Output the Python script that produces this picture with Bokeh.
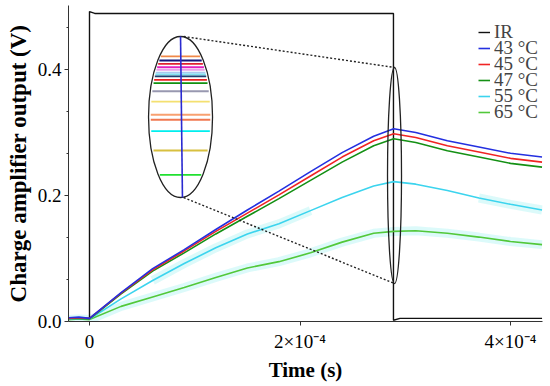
from bokeh.plotting import figure
from bokeh.models import (FixedTicker, CustomJSTickFormatter, Legend, LegendItem,
                          Range1d)
from bokeh.embed import file_html
from bokeh.resources import INLINE
import numpy as np

# ---------------- data ----------------
# time in units of 1e-4 s
t_e4 = [-0.2, -0.1, 0.0, 0.3, 0.6, 0.9, 1.2, 1.5, 1.8, 2.1, 2.4, 2.7, 2.89,
        3.1, 3.4, 3.7, 4.0, 4.3]
v43 = [0.006, 0.007, 0.005, 0.046, 0.084, 0.114, 0.146, 0.177, 0.207, 0.238,
       0.268, 0.294, 0.306, 0.300, 0.287, 0.277, 0.267, 0.261]
v45 = [0.005, 0.006, 0.005, 0.045, 0.082, 0.112, 0.143, 0.172, 0.201, 0.231,
       0.261, 0.287, 0.298, 0.292, 0.279, 0.269, 0.259, 0.253]
v47 = [0.005, 0.005, 0.004, 0.044, 0.080, 0.109, 0.139, 0.167, 0.195, 0.224,
       0.253, 0.279, 0.290, 0.284, 0.271, 0.261, 0.251, 0.245]
v55 = [0.004, 0.005, 0.004, 0.036, 0.065, 0.092, 0.117, 0.139, 0.155, 0.176,
       0.197, 0.215, 0.222, 0.218, 0.208, 0.196, 0.186, 0.177]
v65 = [0.003, 0.004, 0.003, 0.024, 0.039, 0.054, 0.070, 0.085, 0.095, 0.109,
       0.126, 0.140, 0.143, 0.144, 0.140, 0.134, 0.127, 0.122]

ir_t_e4 = [-0.2, 0.0, 0.0, 0.05, 2.888, 2.888, 2.95, 4.3]
ir_v = [0.005, 0.005, 0.492, 0.489, 0.489, 0.002, 0.005, 0.005]

series_names = ["IR", "43 °C", "45 °C", "47 °C", "55 °C", "65 °C"]
series_colors = ["#111111", "#2430e0", "#f02424", "#149014", "#3cd4ee", "#52c83a"]

x_ticks = [0.0, 2e-4, 4e-4]
x_tick_labels = ["0", "2×10⁻⁴", "4×10⁻⁴"]
y_ticks = [0.0, 0.2, 0.4]
y_tick_labels = ["0.0", "0.2", "0.4"]
y_minor = [0.0667, 0.1333, 0.2667, 0.3333, 0.4667]

# magnified inset: level positions (fraction from top of ellipse) and colours
inset_levels = [0.124, 0.149, 0.170, 0.191, 0.207, 0.224, 0.236, 0.248, 0.269,
                0.290, 0.340, 0.404, 0.486, 0.517, 0.588, 0.708, 0.859]
inset_colors = ["#f08848", "#14147a", "#e02030", "#e020c0", "#e8a0e8", "#a8c8f0",
                "#80e0f0", "#204070", "#e82020", "#109010", "#9898b0", "#f4e070",
                "#f8a070", "#f07850", "#00eeee", "#d8c040", "#20e030"]

# ---------------- layout constants ----------------
t = [v * 1e-4 for v in t_e4]
ir_t = [v * 1e-4 for v in ir_t_e4]

big_cx, big_cy, big_w, big_h = 8.65e-5, 0.3246, 6.08e-5, 0.2556
sm_cx, sm_cy, sm_w, sm_h = 2.898e-4, 0.2317, 1.33e-5, 0.343

SERIF = "Liberation Serif"

p = figure(width=550, height=386, output_backend="svg", toolbar_location=None,
           x_range=Range1d(-1.995e-5, 4.304e-4), y_range=Range1d(0.0, 0.5016),
           min_border_left=68, min_border_right=8, min_border_top=5,
           min_border_bottom=65, background_fill_color="white")
p.outline_line_color = None
p.xgrid.visible = False
p.ygrid.visible = False

# pale cyan halo artefacts under the warm-temperature curves
p.line(t, v65, line_width=9, color="#d8fafa", alpha=0.9)
p.line(t[4:10], v55[4:10], line_width=9, color="#d8fafa", alpha=0.9)
p.line(t[15:], v55[15:], line_width=9, color="#d8fafa", alpha=0.9)

r_ir = p.line(ir_t, ir_v, line_width=1.4, color=series_colors[0])
r65 = p.line(t, v65, line_width=1.6, color=series_colors[5])
r55 = p.line(t, v55, line_width=1.6, color=series_colors[4])
r47 = p.line(t, v47, line_width=1.6, color=series_colors[3])
r45 = p.line(t, v45, line_width=1.6, color=series_colors[2])
r43 = p.line(t, v43, line_width=1.6, color=series_colors[1])

# inset ellipses
p.ellipse(x=[big_cx], y=[big_cy], width=[big_w], height=[big_h],
          fill_color="white", line_color="#222222", line_width=1.3)
p.ellipse(x=[sm_cx], y=[sm_cy], width=[sm_w], height=[sm_h],
          fill_alpha=0, line_color="#222222", line_width=1.3)

top = big_cy + big_h / 2
ys = np.array([top - f * big_h for f in inset_levels])
half = (big_w / 2) * np.sqrt(1 - ((ys - big_cy) / (big_h / 2)) ** 2) * 0.93
p.segment(x0=big_cx - half, y0=ys, x1=big_cx + half, y1=ys,
          line_color=inset_colors, line_width=1.8)
p.segment(x0=[big_cx], y0=[big_cy + big_h / 2], x1=[big_cx + big_w * 0.03],
          y1=[big_cy - big_h / 2], line_color="#2a2ad0", line_width=1.6)

# dotted connectors
p.segment(x0=[big_cx + big_w * 0.05, big_cx + big_w * 0.05],
          y0=[big_cy + big_h / 2, big_cy - big_h / 2],
          x1=[sm_cx, sm_cx], y1=[sm_cy + sm_h / 2, sm_cy - sm_h / 2],
          line_color="#222222", line_width=1.4, line_dash="2 2")

FMT = """
let best = 0, d = Infinity;
for (let i = 0; i < tvals.length; i++) { const e = Math.abs(tvals[i] - tick); if (e < d) { d = e; best = i } }
return tlabels[best];"""

# axes
xa = p.xaxis[0]
xa.ticker = FixedTicker(ticks=x_ticks)
xa.formatter = CustomJSTickFormatter(args=dict(tvals=x_ticks, tlabels=x_tick_labels), code=FMT)
ya = p.yaxis[0]
ya.ticker = FixedTicker(ticks=y_ticks, minor_ticks=y_minor)
ya.formatter = CustomJSTickFormatter(args=dict(tvals=y_ticks, tlabels=y_tick_labels), code=FMT)

for ax in (xa, ya):
    ax.axis_line_color = "#333333"
    ax.major_tick_line_color = "#333333"
    ax.minor_tick_line_color = "#333333"
    ax.major_tick_in = 0
    ax.major_tick_out = 4
    ax.minor_tick_in = 0
    ax.minor_tick_out = 2
    ax.major_label_text_font = SERIF
    ax.major_label_text_font_size = "19px"
    ax.major_label_text_color = "black"
    ax.axis_label_text_font = SERIF
    ax.axis_label_text_font_style = "bold"
    ax.axis_label_text_color = "black"
xa.axis_label_text_font_size = "21px"
ya.axis_label_text_font_size = "23px"
xa.minor_tick_out = 0
xa.axis_label = "Time (s)"
ya.axis_label = "Charge amplifier output (V)"
xa.major_label_standoff = 5
xa.axis_label_standoff = 3
ya.major_label_standoff = 3
ya.axis_label_standoff = 4

# legend: one row per entry, 16 px apart
row_renderers = [r_ir, r43, r45, r47, r55, r65]
for i, (name, rr) in enumerate(zip(series_names, row_renderers)):
    lg = Legend(items=[LegendItem(label=name, renderers=[rr])],
                location=(410, 278 - 16 * i), orientation="vertical")
    lg.label_text_font = SERIF
    lg.label_text_font_size = "19px"
    lg.label_height = 16
    lg.glyph_height = 16
    lg.glyph_width = 12
    lg.label_standoff = 4
    lg.spacing = 0
    lg.padding = 0
    lg.margin = 0
    lg.border_line_alpha = 0
    lg.background_fill_alpha = 0
    p.add_layout(lg)

open("out.html", "w").write(file_html(p, INLINE))
